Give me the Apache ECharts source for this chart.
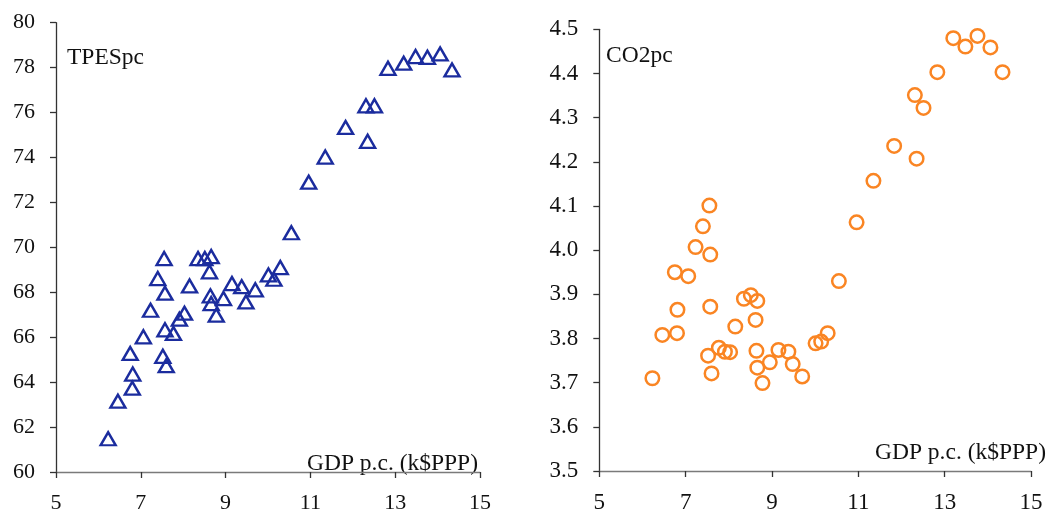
<!DOCTYPE html>
<html>
<head>
<meta charset="utf-8">
<script src="https://cdn.jsdelivr.net/npm/echarts@6/dist/echarts.min.js"></script>
<style>
  html, body { margin: 0; padding: 0; background: #fff; }
  #chart { width: 1047px; height: 514px; }
</style>
</head>
<body>
<div id="chart"></div>
<script>
// GDP per capita (k$ PPP), shared by both panels
const gdp = [
  6.23, 6.46, 6.75, 6.80, 6.81, 7.06, 7.23, 7.40, 7.52, 7.55,
  7.57, 7.57, 7.60, 7.77, 7.91, 8.03, 8.15, 8.35, 8.51, 8.66,
  8.62, 8.64, 8.66, 8.78, 8.95, 9.15, 9.38, 9.48, 9.70, 10.01,
  10.14, 10.29, 10.55, 10.96, 11.35, 11.83, 12.31, 12.35, 12.51, 12.83,
  13.20, 13.48, 13.76, 14.06, 14.34
];

// Total primary energy supply per capita
const tpesPc = [
  61.48, 63.15, 65.28, 63.73, 64.36, 66.02, 67.20, 68.61, 65.15, 69.50,
  67.96, 66.33, 64.73, 66.17, 66.80, 67.07, 68.28, 69.50, 69.50, 69.59,
  68.91, 67.84, 67.50, 66.98, 67.72, 68.39, 68.25, 67.57, 68.11, 68.77,
  68.58, 69.10, 70.65, 72.90, 74.02, 75.34, 76.30, 74.72, 76.30, 77.97,
  78.20, 78.49, 78.46, 78.61, 77.90
];

// CO2 emissions per capita
const co2Pc = [
  3.710, 3.808, 3.950, 3.812, 3.865, 3.941, 4.007, 4.054, 3.761, 4.101,
  3.990, 3.872, 3.721, 3.779, 3.770, 3.769, 3.827, 3.890, 3.898, 3.885,
  3.842, 3.772, 3.734, 3.699, 3.746, 3.774, 3.770, 3.742, 3.714, 3.789,
  3.793, 3.812, 3.930, 4.063, 4.157, 4.236, 4.351, 4.207, 4.322, 4.403,
  4.480, 4.461, 4.485, 4.459, 4.403
];

const xTicks = { min: 5, max: 15, interval: 2 };
const tpesTicks = { min: 60, max: 80, interval: 2 };
const co2Ticks = { min: 3.5, max: 4.5, interval: 0.1 };

const FONT = '"Liberation Serif", "DejaVu Serif", serif';
const BLUE = '#1b2c9e';
const ORANGE = '#fa8523';

function pairs(xs, ys) {
  return xs.map((x, i) => [x, ys[i]]);
}

function xAxisFor(gridIndex, size) {
  return {
    type: 'value', gridIndex,
    min: xTicks.min, max: xTicks.max, interval: xTicks.interval,
    axisLine: { show: true, onZero: false, lineStyle: { color: '#7a7a7a', width: 1.3 } },
    axisTick: { show: true, length: 6, lineStyle: { color: '#333', width: 1.3 } },
    axisLabel: { color: '#111', fontFamily: FONT, fontSize: size, margin: 20 },
    splitLine: { show: false }
  };
}

function yAxisFor(gridIndex, t, fmt, size) {
  return {
    type: 'value', gridIndex,
    min: t.min, max: t.max, interval: t.interval,
    axisLine: { show: true, onZero: false, lineStyle: { color: '#333', width: 1.3 } },
    axisTick: { show: true, length: 6, lineStyle: { color: '#333', width: 1.3 } },
    axisLabel: { color: '#111', fontFamily: FONT, fontSize: size, margin: 21, formatter: fmt },
    splitLine: { show: false }
  };
}

const chart = echarts.init(document.getElementById('chart'), null, { renderer: 'canvas' });

chart.setOption({
  animation: false,
  backgroundColor: '#fff',
  grid: [
    { left: 56, top: 22.7, width: 424, height: 450.6 },
    { left: 599.3, top: 29.3, width: 431.7, height: 444 }
  ],
  xAxis: [xAxisFor(0, 22), xAxisFor(1, 23)],
  yAxis: [
    yAxisFor(0, tpesTicks, v => String(Math.round(v)), 22),
    yAxisFor(1, co2Ticks, v => v.toFixed(1), 23)
  ],
  series: [
    {
      type: 'scatter', xAxisIndex: 0, yAxisIndex: 0,
      data: pairs(gdp, tpesPc),
      symbol: 'triangle', symbolSize: [15, 13],
      itemStyle: { color: 'rgba(0,0,0,0)', borderColor: BLUE, borderWidth: 2.4, opacity: 1 }
    },
    {
      type: 'scatter', xAxisIndex: 1, yAxisIndex: 1,
      data: pairs(gdp, co2Pc),
      symbol: 'circle', symbolSize: 13.5,
      itemStyle: { color: 'rgba(0,0,0,0)', borderColor: ORANGE, borderWidth: 2.5, opacity: 1 }
    }
  ],
  graphic: [
    { type: 'text', left: 67, top: 46, style: { text: 'TPESpc', font: '23.5px ' + FONT, fill: '#111' } },
    { type: 'text', right: 1047 - 478, top: 452, style: { text: 'GDP p.c. (k$PPP)', font: '23.5px ' + FONT, fill: '#111' } },
    { type: 'text', left: 606, top: 44, style: { text: 'CO2pc', font: '23.5px ' + FONT, fill: '#111' } },
    { type: 'text', right: 1, top: 441, style: { text: 'GDP p.c. (k$PPP)', font: '23.5px ' + FONT, fill: '#111' } }
  ]
});
</script>
</body>
</html>
